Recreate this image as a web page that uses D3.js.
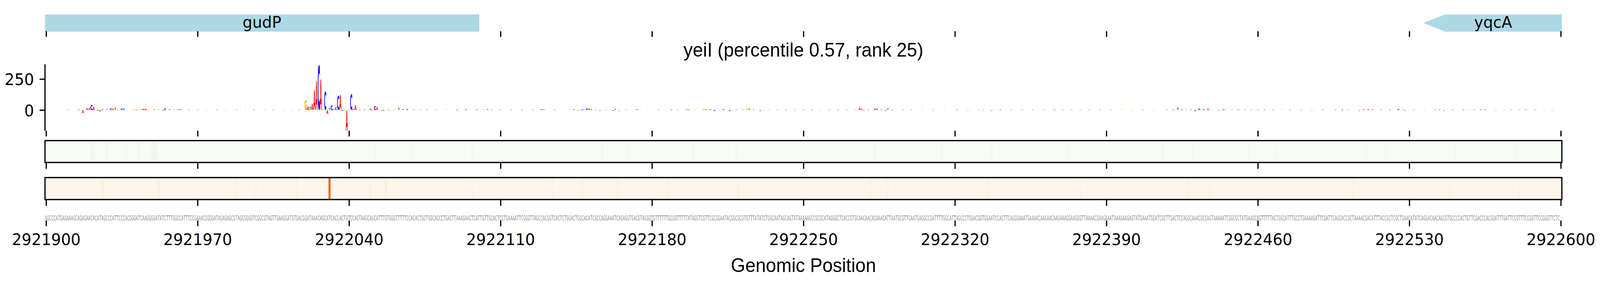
<!DOCTYPE html>
<html>
<head>
<meta charset="utf-8">
<script src="https://cdn.jsdelivr.net/npm/d3@7"></script>
<style>
  html, body { margin: 0; padding: 0; width: 100%; height: 100%; overflow: hidden; background: #fff; }
  svg { display: block; width: 100vw; height: 100vh; }
</style>
</head>
<body>
<svg id="chart" viewBox="0 0 4320 720" preserveAspectRatio="none"></svg>
<script>
// ---- data ----
const regionStart = 2921900;
const regionEnd = 2922600;
const xTicks = [2921900, 2921970, 2922040, 2922110, 2922180, 2922250, 2922320, 2922390, 2922460, 2922530, 2922600];
const yTicks = [0, 250];
const chartTitle = "yeiI (percentile 0.57, rank 25)";
const xLabel = "Genomic Position";

const genes = [
    { name: "gudP", start: 2920750, end: 2922100, strand: -1 },
    { name: "yqcA", start: 2922537, end: 2923050, strand: -1 }
];

// sequence of the window, one base per position from regionStart
const sequence =
    "AGCCCATGAGAAAGCAGAGAACACATAGCCCATTCCCACGGGATCAAGGGGATATCTTTGGCCATTTCCGAAACGGGGATAGAGAGCGTAGCGGGGTCGGCGTAGTTGAAGGATGTGACG" +
    "GATAAACAGCATCACCACTATCCAGTAAGCAGCATTTGTGGGTTTTTCCACACTGCTGGCAGCCTGACTTAAAGAACTCATTGTTGCACTCCTGAAAAT" +
    "TCGGGTTAGCCACGGTCACTCTGGACTGGCACATCGCCAGGAAATCAGAGGTGACGTAGGGTGTTTTTTGCGGTTTTTATAGGTCGTTCGCGGAATACGGCGCGTGTTTATATCTGGCAATAGCAGTATAAAAAGCCGCGCATAGGGCTCACCGTGCAACAACACAA" +
    "ACATTAATGCGTTCAATGAGGCCGATTTTGGCATTAGCCCTGGACGGTGGAATCCACTTCAGGGAAATGAAAACAAGAACAAGAAAGGAAGGGTTAAAACGAAGAAATAAAGAAGAGTATGAAATGGATCGCTTGACTCCAGGCAAACGCCAGTAAAAATCGGCGCTAT" +
    "GAAGCAGTTTTTACTGGCATTTGCCTGAAAAGATTCGATTCAGCACCGCTAAAACGACATTTACCGCTCGCTGAACATATCAGGACAACAGCGTGCCCCACTGTTCGACCCACGGATTTGATTCCGTTTCCGGTTCCGGGTTCTC";

// attribution per position: [offset from regionStart, value]
const attribution = [
    [10,3],[15,6],[17,-25],[19,15],[20,18],[21,42],[22,25],[24,-8],[25,-12],[26,8],[28,5],[30,15],[31,12],[32,18],[33,-5],
    [35,14],[36,14],[40,6],[41,6],[42,5],[44,5],[45,11],[46,11],[47,-6],[50,9],[52,5],[54,-8],[55,16],[57,7],[59,6],[61,5],[62,8],
    [66,3],[70,3],[74,3],[79,4],[83,3],[88,4],[92,3],[96,4],[101,3],[105,4],[110,3],[114,4],[117,3],
    [120,80],[121,27],[122,24],[123,48],[124,157],[125,233],[126,368],[127,244],[128,9],[129,149],[130,-31],[131,17],[132,38],
    [133,9],[134,22],[135,115],[136,119],[137,-8],[138,3],[139,-167],[140,-5],[141,126],[142,9],[143,35],[144,4],[145,5],[147,5],
    [148,4],[150,13],[151,-4],[152,35],[153,25],[155,-6],[156,-8],[158,5],[159,-5],[161,5],[163,17],[165,10],[167,10],[170,4],
    [173,5],[176,4],[180,3],[185,3],[190,7],[194,7],[199,6],[202,6],[204,7],[206,4],[210,3],[215,3],[220,3],[225,3],
    [229,7],[230,6],[235,3],[242,6],[244,6],[246,-8],[247,-8],[248,8],[250,15],[251,12],[252,7],[254,5],[256,-5],[259,5],
    [262,-6],[263,10],[265,-5],[268,5],[273,6],[274,5],[278,3],[283,3],[289,5],[292,3],[296,7],[297,6],[300,3],[304,10],
    [305,7],[307,7],[309,-11],[313,10],[316,-11],[319,3],[322,8],[324,13],[325,12],[327,6],[330,-6],[334,3],[338,3],[342,3],
    [346,3],[350,4],[354,3],[358,4],[362,3],[366,3],[370,3],[374,5],[376,18],[377,10],[378,-4],[380,4],[383,12],[384,12],
    [386,5],[388,-7],[389,13],[391,-4],[396,7],[400,3],[405,3],[410,3],[415,3],[421,5],[426,3],[431,7],[433,-4],[437,-5],
    [441,5],[446,3],[451,3],[456,3],[461,3],[466,6],[470,3],[474,3],[478,6],[482,3],[487,3],[492,3],[497,3],[502,3],[507,3],
    [512,3],[518,5],[521,5],[523,19],[525,6],[527,6],[529,5],[531,-10],[533,14],[535,8],[537,12],[538,4],[542,-5],[544,7],
    [545,5],[548,6],[551,5],[554,4],[557,3],[560,4],[563,6],[567,4],[571,3],[575,3],[580,3],[585,3],[590,3],[596,4],[599,6],
    [602,6],[607,-5],[609,6],[611,8],[613,6],[617,5],[621,3],[625,10],[627,6],[628,-5],[632,3],[637,3],[642,4],[644,6],
    [646,-5],[650,3],[655,5],[657,4],[660,3],[663,5],[665,6],[670,3],[674,3],[677,4],[681,3],[684,5],[688,4],[692,3],[696,3]
];

// heatmap tracks: [offset, colormap fraction]
const greenTrack = [
    [21,0.04],[22,0.05],[28,0.05],[37,0.04],[43,0.05],[49,0.06],[50,0.07],[51,0.05],[152,0.04],[169,0.04],[197,0.04],
    [257,0.04],[269,0.04],[299,0.04],[319,0.04],[383,0.04],[414,0.04],[437,0.04],[472,0.03],[516,0.04],[530,0.04],
    [556,0.04],[568,0.03],[610,0.04],[619,0.04],[651,0.04],[679,0.04]
];
const orangeTrack = [
    [26,0.06],[52,0.05],[88,0.04],[97,0.03],[116,0.04],[131,0.62],[150,0.03],[157,0.06],[197,0.03],[234,0.03],[248,0.03],
    [264,0.03],[287,0.03],[320,0.03],[381,0.04],[389,0.04],[435,0.03],[478,0.03],[528,0.03],[538,0.03],[604,0.03],
    [649,0.03],[681,0.03]
];

const baseColors = { A: "#ff0000", C: "#0000ff", G: "#ffa500", T: "#008000" };

// ---- layout ----
const left = 121.5, right = 4217;
const tickLen = 14.6, tickW = 3.33;
const tickFont = "DejaVu Sans", tickFs = 41.67;
const labelFont = "Liberation Sans, Arial, sans-serif";
const rows = {
    gene: [38, 80],
    logo: [165, 335],
    green: [360.3, 416.3],
    orange: [455, 511.3],
    seq: [551.7, 565]
};

const svg = d3.select("#chart");

const x = d3.scaleLinear()
    .domain([regionStart - 0.5, regionEnd + 0.5])
    .range([left, right]);
const step = x(regionStart + 1) - x(regionStart);

svg.append("defs").append("clipPath").attr("id", "clipX")
    .append("rect").attr("x", left).attr("y", 0).attr("width", right - left).attr("height", 720);

// bottom ticks under every track, labels only on the last one
function drawTicks(y, withLabels) {
    const g = svg.append("g")
        .attr("transform", "translate(0," + y + ")")
        .call(d3.axisBottom(x)
            .tickValues(xTicks)
            .tickSize(tickLen)
            .tickSizeOuter(0)
            .tickPadding(18.5)
            .tickFormat(withLabels ? d3.format("d") : ""));
    g.select(".domain").remove();
    g.selectAll(".tick line").attr("stroke", "#000").attr("stroke-width", tickW);
    g.selectAll(".tick text")
        .attr("fill", "#000")
        .style("font-family", tickFont)
        .style("font-size", tickFs + "px");
    return g;
}

// ---- gene track ----
const geneG = svg.append("g").attr("clip-path", "url(#clipX)");
const headLen = 57;
const gTop = rows.gene[0], gBot = rows.gene[1], gMid = (gTop + gBot) / 2;
genes.forEach(gene => {
    let pts;
    const xs = x(gene.start), xe = x(gene.end);
    if (gene.strand < 0) {
        pts = [[xs, gMid], [xs + headLen, gTop], [xe, gTop], [xe, gBot], [xs + headLen, gBot]];
    } else {
        pts = [[xs, gTop], [xe - headLen, gTop], [xe, gMid], [xe - headLen, gBot], [xs, gBot]];
    }
    geneG.append("polygon")
        .attr("points", pts.map(p => p.join(",")).join(" "))
        .attr("fill", "#add8e6")
        .attr("stroke", "#add8e6")
        .attr("stroke-width", 2)
        .attr("stroke-linejoin", "round");
    const vs = Math.max(gene.start, x.domain()[0]);
    const ve = Math.min(gene.end, x.domain()[1]);
    svg.append("text")
        .attr("x", x((vs + ve) / 2))
        .attr("y", 71)
        .attr("text-anchor", "middle")
        .style("font-family", tickFont)
        .style("font-size", tickFs + "px")
        .text(gene.name);
});
drawTicks(gBot, false);

// ---- title ----
svg.append("text")
    .attr("x", (left + right) / 2)
    .attr("y", 145)
    .attr("text-anchor", "middle")
    .style("font-family", labelFont)
    .style("font-size", "50px")
    .text(chartTitle);

// ---- attribution logo ----
const y = d3.scaleLinear()
    .domain(d3.extent(attribution, d => d[1]))
    .range([rows.logo[1], rows.logo[0]]);

// tight glyph bounds so each letter fills its box
const ctx = document.createElement("canvas").getContext("2d");
ctx.font = "bold 100px 'DejaVu Sans'";
const glyph = {};
"ACGT".split("").forEach(b => {
    const m = ctx.measureText(b);
    glyph[b] = { l: m.actualBoundingBoxLeft, r: m.actualBoundingBoxRight, a: m.actualBoundingBoxAscent, d: m.actualBoundingBoxDescent };
});

const logoG = svg.append("g");
attribution.forEach(([off, v]) => {
    const base = sequence[off];
    if (!base || v === 0) return;
    const pos = regionStart + off;
    const x0 = x(pos - 0.47), x1 = x(pos + 0.47);
    const yT = y(Math.max(v, 0)), yB = y(Math.min(v, 0));
    const m = glyph[base];
    const sx = (x1 - x0) / (m.l + m.r);
    const sy = (yB - yT) / (m.a + m.d);
    logoG.append("text")
        .attr("transform", "translate(" + (x0 + m.l * sx) + "," + (yT + m.a * sy) + ") scale(" + sx + "," + sy + ")")
        .attr("fill", baseColors[base])
        .style("font-family", "DejaVu Sans")
        .style("font-weight", "bold")
        .style("font-size", "100px")
        .text(base);
});

// left spine and y ticks
svg.append("line")
    .attr("x1", left).attr("x2", left)
    .attr("y1", rows.logo[0]).attr("y2", rows.logo[1])
    .attr("stroke", "#000").attr("stroke-width", tickW);
const yAxis = svg.append("g")
    .attr("transform", "translate(" + left + ",0)")
    .call(d3.axisLeft(y).tickValues(yTicks).tickSize(tickLen).tickSizeOuter(0).tickPadding(15));
yAxis.select(".domain").remove();
yAxis.selectAll(".tick line").attr("stroke", "#000").attr("stroke-width", tickW);
yAxis.selectAll(".tick text")
    .attr("dy", "0.365em")
    .attr("fill", "#000")
    .style("font-family", tickFont)
    .style("font-size", tickFs + "px");
drawTicks(rows.logo[1], false);

// ---- heatmap tracks ----
function heatTrack(row, data, interp) {
    const g = svg.append("g");
    g.append("rect")
        .attr("x", left).attr("y", row[0])
        .attr("width", right - left).attr("height", row[1] - row[0])
        .attr("fill", interp(0));
    g.selectAll("rect.cell")
        .data(data)
        .enter().append("rect")
        .attr("class", "cell")
        .attr("x", d => x(regionStart + d[0] - 0.5))
        .attr("y", row[0])
        .attr("width", step)
        .attr("height", row[1] - row[0])
        .attr("fill", d => interp(d[1]));
    g.append("rect")
        .attr("x", left).attr("y", row[0])
        .attr("width", right - left).attr("height", row[1] - row[0])
        .attr("fill", "none")
        .attr("stroke", "#000")
        .attr("stroke-width", tickW);
    drawTicks(row[1] + tickW / 2, false);
}
heatTrack(rows.green, greenTrack, d3.interpolateGreens);
heatTrack(rows.orange, orangeTrack, d3.interpolateOranges);

// ---- sequence track ----
svg.append("g").selectAll("text")
    .data(sequence.split(""))
    .enter().append("text")
    .attr("x", (d, i) => x(regionStart + i))
    .attr("y", rows.seq[1])
    .attr("text-anchor", "middle")
    .attr("textLength", step * 0.92)
    .attr("lengthAdjust", "spacingAndGlyphs")
    .attr("fill", "#808080")
    .style("font-family", "DejaVu Sans")
    .style("font-size", "18.2px")
    .text(d => d);
drawTicks(rows.seq[1], true);

// ---- x label ----
svg.append("text")
    .attr("x", (left + right) / 2)
    .attr("y", 697)
    .attr("text-anchor", "middle")
    .style("font-family", labelFont)
    .style("font-size", "50px")
    .text(xLabel);
</script>
</body>
</html>
